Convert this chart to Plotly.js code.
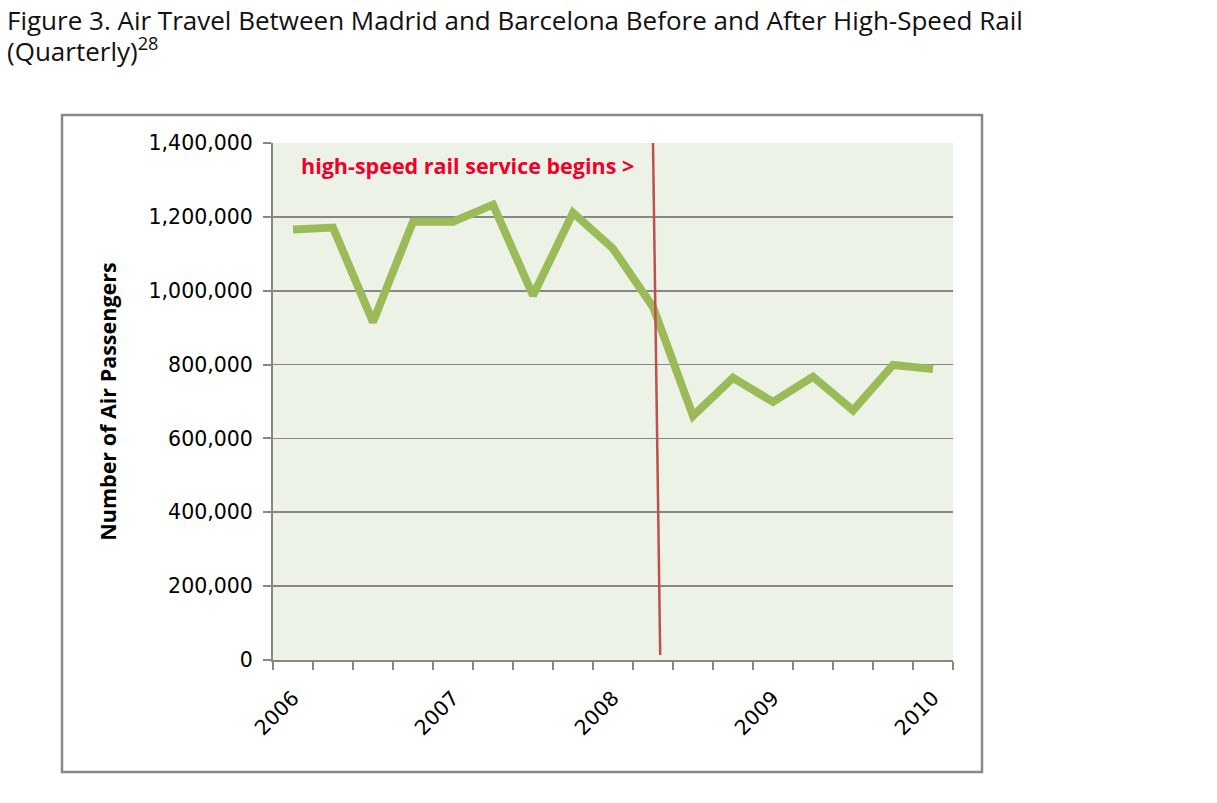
<!DOCTYPE html>
<html>
<head>
<meta charset="utf-8">
<script src="https://cdn.plot.ly/plotly-3.0.1.min.js"></script>
<style>html,body{margin:0;padding:0;background:#fff;}#chart{width:1217px;height:803px;}</style>
</head>
<body>
<div id="chart"></div>
<script>
const quarters = ['2006 Q1','2006 Q2','2006 Q3','2006 Q4','2007 Q1','2007 Q2','2007 Q3','2007 Q4',
                  '2008 Q1','2008 Q2','2008 Q3','2008 Q4','2009 Q1','2009 Q2','2009 Q3','2009 Q4','2010 Q1'];
const passengers = [1166000, 1171000, 915000, 1187000, 1187000, 1233000, 987000, 1211000,
                    1114000, 956000, 661000, 764000, 699000, 767000, 676000, 799000, 788000];
const yearLabels = ['2006','2007','2008','2009','2010'];
const yearTickIdx = [0, 4, 8, 12, 16];
const railStart = {x0: 9, x1: 9.18, yTop: 1400000, yBottom: 13500};
const annotationText = 'high-speed rail service begins >';
const titleLine1 = 'Figure 3. Air Travel Between Madrid and Barcelona Before and After High-Speed Rail';
const titleLine2 = '(Quarterly)<sup>28</sup>';

const xIdx = quarters.map((q, i) => i);
const gray = '#878787';

const trace = {
  x: xIdx, y: passengers, text: quarters, type: 'scatter', mode: 'lines',
  line: {color: '#9BBB59', width: 8, shape: 'linear'},
  hoverinfo: 'text+y'
};

const px2x = p => (p - 273) / 680;
const px2y = p => (660 - p) / 517;

const layout = {
  width: 1217, height: 803,
  margin: {l: 273, r: 264, t: 143, b: 143},
  paper_bgcolor: '#ffffff', plot_bgcolor: '#EDF2E7',
  showlegend: false,
  font: {family: 'DejaVu Sans, sans-serif', size: 20, color: '#000'},
  xaxis: {
    range: [-0.5, 16.5], tickmode: 'array', tickvals: yearTickIdx, ticktext: yearLabels,
    tickangle: -45, ticks: '', showgrid: false, zeroline: false,
    showline: true, linecolor: gray, linewidth: 2,
    tickfont: {family: 'DejaVu Sans, sans-serif', size: 20.5, color: '#000'},
    ticklabelstandoff: 16,
    minor: {tickmode: 'linear', tick0: -0.5, dtick: 1, ticks: 'outside', ticklen: 8, tickwidth: 2, tickcolor: gray, showgrid: false},
    fixedrange: true
  },
  yaxis: {
    range: [0, 1400000], tickmode: 'linear', tick0: 0, dtick: 200000, tickformat: ',d',
    ticks: 'outside', ticklen: 8, tickwidth: 2, tickcolor: gray,
    showgrid: true, gridcolor: gray, gridwidth: 1.6, zeroline: false,
    showline: true, linecolor: gray, linewidth: 2,
    tickfont: {family: 'DejaVu Sans, sans-serif', size: 20.5, color: '#000'},
    ticklabelstandoff: 6,
    title: {text: '<b>Number of Air Passengers</b>', standoff: 26,
            font: {family: 'Open Sans, sans-serif', size: 21.5, color: '#000'}},
    fixedrange: true
  },
  shapes: [
    {type: 'line', xref: 'x', yref: 'y', x0: railStart.x0, x1: railStart.x1, y0: railStart.yTop, y1: railStart.yBottom,
     line: {color: '#C0504D', width: 2.5}},
    {type: 'rect', xref: 'paper', yref: 'paper', x0: px2x(62), x1: px2x(982), y0: px2y(772), y1: px2y(115),
     line: {color: gray, width: 2.5}, fillcolor: 'rgba(0,0,0,0)', layer: 'below'}
  ],
  annotations: [
    {text: '<b>' + annotationText + '</b>', xref: 'x', yref: 'y', x: 0.15, y: 1340000,
     xanchor: 'left', yanchor: 'middle', showarrow: false,
     font: {family: 'Open Sans, sans-serif', size: 21.5, color: '#F0002A'}},
    {text: titleLine1, xref: 'paper', yref: 'paper', x: px2x(5), y: px2y(0),
     xanchor: 'left', yanchor: 'top', align: 'left', showarrow: false,
     font: {family: 'Open Sans, sans-serif', size: 26, color: '#111'}},
    {text: titleLine2, xref: 'paper', yref: 'paper', x: px2x(5), y: px2y(29),
     xanchor: 'left', yanchor: 'top', align: 'left', showarrow: false,
     font: {family: 'Open Sans, sans-serif', size: 26, color: '#111'}}
  ]
};

Plotly.newPlot('chart', [trace], layout, {displayModeBar: false, staticPlot: true});
</script>
</body>
</html>
